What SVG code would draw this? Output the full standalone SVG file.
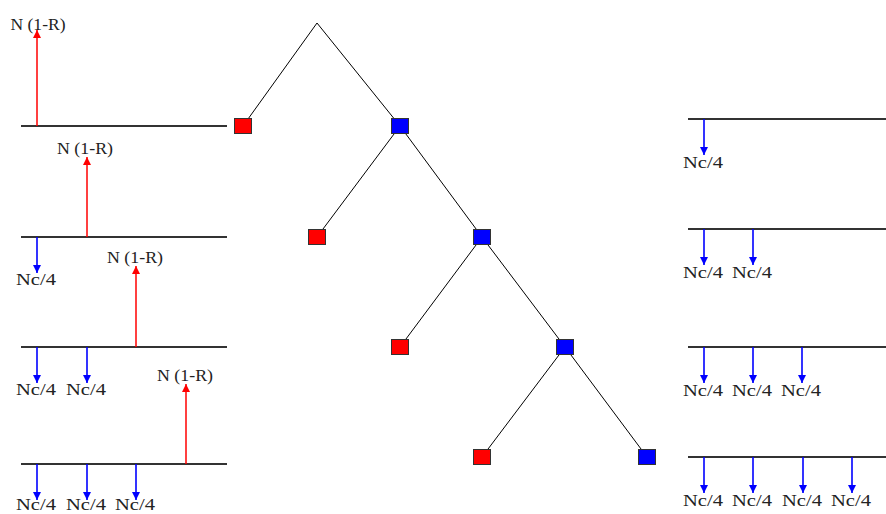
<svg xmlns="http://www.w3.org/2000/svg" width="886" height="514" viewBox="0 0 886 514">
<defs>
<marker id="ar" viewBox="0 0 10 10" refX="10" refY="5" markerWidth="8" markerHeight="8" markerUnits="userSpaceOnUse" orient="auto"><path d="M0,0 L10,5 L0,10 z" fill="#ff0000"/></marker>
<marker id="ab" viewBox="0 0 10 10" refX="10" refY="5" markerWidth="8" markerHeight="8" markerUnits="userSpaceOnUse" orient="auto"><path d="M0,0 L10,5 L0,10 z" fill="#0000ff"/></marker>
</defs>
<style>
.base{stroke:#333;stroke-width:2;fill:none}
.tree{stroke:#000;stroke-width:1;fill:none}
.up{stroke:#ff0000;stroke-width:1.5;marker-end:url(#ar)}
.dn{stroke:#0000ff;stroke-width:1.6;marker-end:url(#ab)}
.sq{stroke:#333;stroke-width:1}
.r{fill:#ff0000}
.b{fill:#0000ff}
text{font-family:"Liberation Serif","DejaVu Serif",serif;font-size:17px;fill:#222;text-anchor:middle}
</style>
<rect width="886" height="514" fill="#fff"/>
<g id="connectors">
<path class="tree" d="M243,126 L317,23 L400,126 M317,237 L400,126 L482,237 M400,347 L482,237 L565,347 M482,457 L565,347 L647,457"/>
</g>
<g id="nodes">
<rect id="n1" class="sq r" x="234.5" y="118.5" width="17" height="15"/>
<rect id="n2" class="sq b" x="391.5" y="118.5" width="17" height="15"/>
<rect id="n3" class="sq r" x="308.5" y="229.5" width="17" height="15"/>
<rect id="n4" class="sq b" x="473.5" y="229.5" width="17" height="15"/>
<rect id="n5" class="sq r" x="391.5" y="339.5" width="17" height="15"/>
<rect id="n6" class="sq b" x="556.5" y="339.5" width="17" height="15"/>
<rect id="n7" class="sq r" x="473.5" y="449.5" width="17" height="15"/>
<rect id="n8" class="sq b" x="638.5" y="449.5" width="17" height="15"/>
</g>
<g id="left">
<line class="base" x1="21" y1="126" x2="227" y2="126"/>
<line class="up" x1="37" y1="126" x2="37" y2="30"/>
<text x="38" y="30" textLength="55" lengthAdjust="spacingAndGlyphs">N (1-R)</text>

<line class="base" x1="21" y1="237" x2="227" y2="237"/>
<line class="up" x1="87" y1="237" x2="87" y2="157"/>
<text x="85" y="154" textLength="56" lengthAdjust="spacingAndGlyphs">N (1-R)</text>
<line class="dn" x1="37" y1="237" x2="37" y2="273"/>
<text x="36" y="285" textLength="40" lengthAdjust="spacingAndGlyphs">Nc/4</text>

<line class="base" x1="21" y1="347" x2="227" y2="347"/>
<line class="up" x1="136" y1="347" x2="136" y2="266"/>
<text x="135" y="263" textLength="56" lengthAdjust="spacingAndGlyphs">N (1-R)</text>
<line class="dn" x1="37" y1="347" x2="37" y2="383"/>
<line class="dn" x1="87" y1="347" x2="87" y2="383"/>
<text x="36" y="395" textLength="40" lengthAdjust="spacingAndGlyphs">Nc/4</text>
<text x="86" y="395" textLength="40" lengthAdjust="spacingAndGlyphs">Nc/4</text>

<line class="base" x1="21" y1="464" x2="227" y2="464"/>
<line class="up" x1="186" y1="464" x2="186" y2="384"/>
<text x="185" y="381" textLength="56" lengthAdjust="spacingAndGlyphs">N (1-R)</text>
<line class="dn" x1="37" y1="464" x2="37" y2="500"/>
<line class="dn" x1="87" y1="464" x2="87" y2="500"/>
<line class="dn" x1="136" y1="464" x2="136" y2="500"/>
<text x="36" y="510" textLength="40" lengthAdjust="spacingAndGlyphs">Nc/4</text>
<text x="86" y="510" textLength="40" lengthAdjust="spacingAndGlyphs">Nc/4</text>
<text x="135" y="510" textLength="40" lengthAdjust="spacingAndGlyphs">Nc/4</text>
</g>
<g id="right">
<line class="base" x1="688" y1="119" x2="886" y2="119"/>
<line class="dn" x1="704" y1="119" x2="704" y2="155"/>
<text x="703" y="168" textLength="40" lengthAdjust="spacingAndGlyphs">Nc/4</text>

<line class="base" x1="688" y1="229" x2="886" y2="229"/>
<line class="dn" x1="704" y1="229" x2="704" y2="265"/>
<line class="dn" x1="753" y1="229" x2="753" y2="265"/>
<text x="703" y="278" textLength="40" lengthAdjust="spacingAndGlyphs">Nc/4</text>
<text x="752" y="278" textLength="40" lengthAdjust="spacingAndGlyphs">Nc/4</text>

<line class="base" x1="688" y1="347" x2="886" y2="347"/>
<line class="dn" x1="704" y1="347" x2="704" y2="383"/>
<line class="dn" x1="753" y1="347" x2="753" y2="383"/>
<line class="dn" x1="802" y1="347" x2="802" y2="383"/>
<text x="703" y="396" textLength="40" lengthAdjust="spacingAndGlyphs">Nc/4</text>
<text x="752" y="396" textLength="40" lengthAdjust="spacingAndGlyphs">Nc/4</text>
<text x="801" y="396" textLength="40" lengthAdjust="spacingAndGlyphs">Nc/4</text>

<line class="base" x1="688" y1="457" x2="886" y2="457"/>
<line class="dn" x1="704" y1="457" x2="704" y2="493"/>
<line class="dn" x1="753" y1="457" x2="753" y2="493"/>
<line class="dn" x1="803" y1="457" x2="803" y2="493"/>
<line class="dn" x1="852" y1="457" x2="852" y2="493"/>
<text x="703" y="506" textLength="40" lengthAdjust="spacingAndGlyphs">Nc/4</text>
<text x="752" y="506" textLength="40" lengthAdjust="spacingAndGlyphs">Nc/4</text>
<text x="802" y="506" textLength="40" lengthAdjust="spacingAndGlyphs">Nc/4</text>
<text x="851" y="506" textLength="40" lengthAdjust="spacingAndGlyphs">Nc/4</text>
</g>
</svg>
